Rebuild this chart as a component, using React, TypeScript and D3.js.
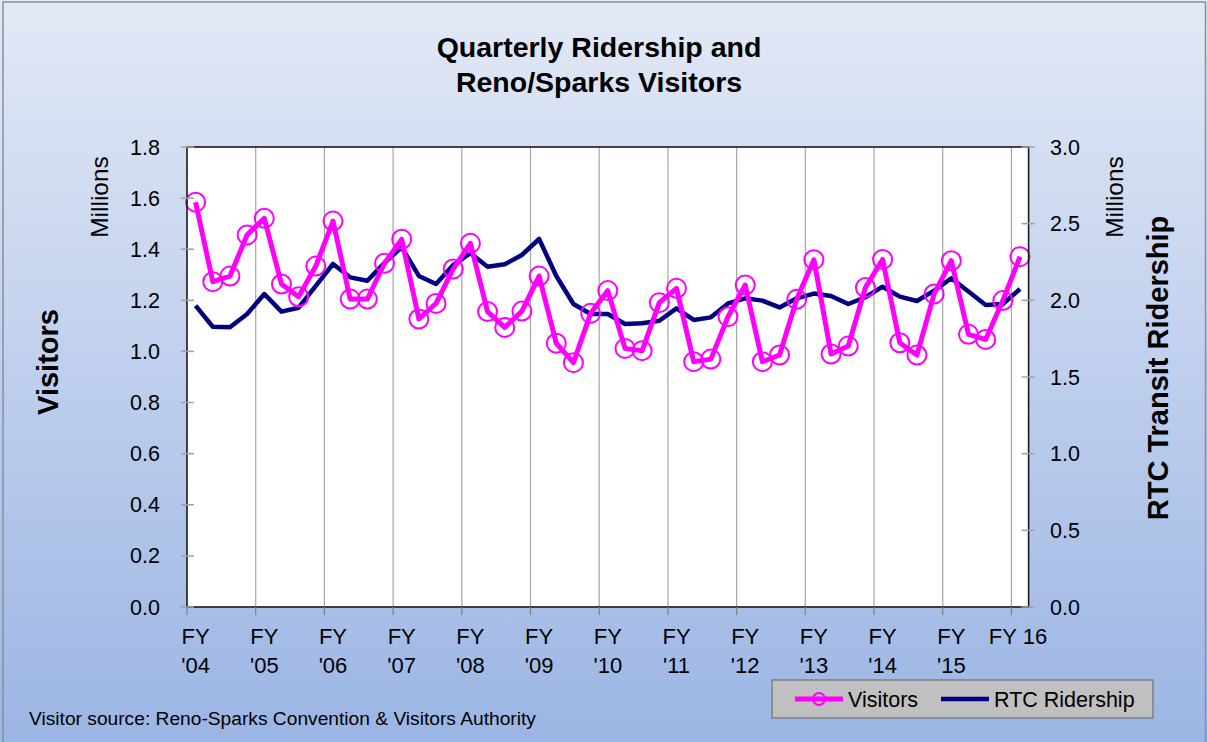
import React from "react";
import * as d3 from "d3";

const visitors: number[] = [
  1.584, 1.273, 1.295, 1.456, 1.521, 1.264, 1.214, 1.334, 1.510, 1.205, 1.205, 1.345,
  1.439, 1.127, 1.188, 1.323, 1.423, 1.156, 1.094, 1.158, 1.295, 1.032, 0.956, 1.149,
  1.238, 1.012, 1.003, 1.191, 1.247, 0.960, 0.970, 1.136, 1.260, 0.960, 0.986, 1.204,
  1.359, 0.990, 1.021, 1.250, 1.360, 1.034, 0.986, 1.225, 1.355, 1.067, 1.047, 1.199,
  1.371,
];

const ridership: number[] = [
  1.965, 1.828, 1.824, 1.911, 2.041, 1.926, 1.952, 2.094, 2.237, 2.150, 2.128, 2.244,
  2.346, 2.159, 2.107, 2.230, 2.307, 2.219, 2.235, 2.296, 2.400, 2.159, 1.976, 1.911,
  1.911, 1.846, 1.850, 1.867, 1.948, 1.872, 1.889, 1.980, 2.013, 1.998, 1.954, 2.013,
  2.044, 2.028, 1.976, 2.020, 2.089, 2.024, 1.996, 2.063, 2.144, 2.057, 1.970, 1.976,
  2.074,
];

const yearLabels: string[][] = [
  ["FY", "'04"], ["FY", "'05"], ["FY", "'06"], ["FY", "'07"], ["FY", "'08"], ["FY", "'09"],
  ["FY", "'10"], ["FY", "'11"], ["FY", "'12"], ["FY", "'13"], ["FY", "'14"], ["FY", "'15"],
  ["FY 16"],
];

const leftTicks: number[] = [0, 0.2, 0.4, 0.6, 0.8, 1.0, 1.2, 1.4, 1.6, 1.8];
const rightTicks: number[] = [0, 0.5, 1.0, 1.5, 2.0, 2.5, 3.0];

const W = 1207;
const H = 742;
const PL = 187;
const PR = 1028.6;
const PT = 147;
const PB = 607;
const FONT = "'Liberation Sans', Arial, sans-serif";

export default function App() {
  const idx = visitors.map((_, i) => i);
  const x = d3.scaleBand<number>().domain(idx).range([PL, PR]).padding(0);
  const cx = (i: number) => (x(i) as number) + x.bandwidth() / 2;
  const yL = d3.scaleLinear().domain([0, 1.8]).range([PB, PT]);
  const yR = d3.scaleLinear().domain([0, 3.0]).range([PB, PT]);

  const visLine = d3.line<number>().x((_, i) => cx(i)).y((d) => yL(d));
  const ridLine = d3.line<number>().x((_, i) => cx(i)).y((d) => yR(d));

  const boundaries = d3.range(4, visitors.length, 4);

  return (
    <svg
      width={W}
      height={H}
      style={{ position: "absolute", left: 0, top: 0, display: "block" }}
    >
      <defs>
        <linearGradient id="bg" x1="0" y1="0" x2="0" y2="1">
          <stop offset="0" stopColor="#e3e9f6" />
          <stop offset="1" stopColor="#9bb5e4" />
        </linearGradient>
      </defs>
      <rect x={0} y={0} width={W} height={H} fill="url(#bg)" />
      <rect x={3} y={2} width={W - 4.5} height={H + 10} fill="none" stroke="#8a8f99" strokeWidth={1.5} />

      {/* title */}
      <text x={599} y={57} textAnchor="middle" fontFamily={FONT} fontWeight="bold" fontSize={28.5} fill="#000">
        Quarterly Ridership and
      </text>
      <text x={599} y={92} textAnchor="middle" fontFamily={FONT} fontWeight="bold" fontSize={28.5} fill="#000">
        Reno/Sparks Visitors
      </text>

      {/* plot area */}
      <rect x={PL} y={PT} width={PR - PL} height={PB - PT} fill="#ffffff" />
      {boundaries.map((b) => (
        <line key={"g" + b} x1={x(b)} x2={x(b)} y1={PT} y2={PB} stroke="#a6a6a6" strokeWidth={1.2} />
      ))}

      {/* series */}
      <path d={ridLine(ridership) || ""} fill="none" stroke="#000080" strokeWidth={4.5} strokeLinejoin="round" />
      <path d={visLine(visitors) || ""} fill="none" stroke="#ff00ff" strokeWidth={5} strokeLinejoin="round" />
      {visitors.map((v, i) => (
        <circle key={"c" + i} cx={cx(i)} cy={yL(v)} r={9.5} fill="none" stroke="#ff00ff" strokeWidth={2} />
      ))}

      {/* plot border */}
      <rect x={PL} y={PT} width={PR - PL} height={PB - PT} fill="none" stroke="#1a1a1a" strokeWidth={1.6} />

      {/* left axis */}
      {leftTicks.map((t) => (
        <g key={"l" + t}>
          <line x1={PL - 6} x2={PL + 7} y1={yL(t)} y2={yL(t)} stroke="#a0a0a0" strokeWidth={1.5} />
          <text x={160} y={yL(t) + 7.5} textAnchor="end" fontFamily={FONT} fontSize={21.5} fill="#000">
            {t.toFixed(1)}
          </text>
        </g>
      ))}
      {/* right axis */}
      {rightTicks.map((t) => (
        <g key={"r" + t}>
          <line x1={PR - 7} x2={PR + 6} y1={yR(t)} y2={yR(t)} stroke="#a0a0a0" strokeWidth={1.5} />
          <text x={1050} y={yR(t) + 7.5} textAnchor="start" fontFamily={FONT} fontSize={21.5} fill="#000">
            {t.toFixed(1)}
          </text>
        </g>
      ))}

      {/* x axis ticks and labels */}
      {[0, ...boundaries].map((b) => (
        <line key={"t" + b} x1={x(b)} x2={x(b)} y1={PB} y2={PB + 8} stroke="#808080" strokeWidth={1.2} />
      ))}
      {yearLabels.map((lab, k) => {
        const px = lab.length === 1 ? cx(k * 4) - 2 : cx(k * 4);
        return (
          <text key={"x" + k} x={px} textAnchor="middle" fontFamily={FONT} fontSize={22} fill="#000">
            {lab.map((s, j) => (
              <tspan key={j} x={px} y={644 + j * 29}>
                {s}
              </tspan>
            ))}
          </text>
        );
      })}

      {/* axis titles */}
      <text transform="translate(108,197) rotate(-90)" textAnchor="middle" fontFamily={FONT} fontSize={24.5} fill="#000">
        Millions
      </text>
      <text transform="translate(58,362) rotate(-90)" textAnchor="middle" fontFamily={FONT} fontWeight="bold" fontSize={29} fill="#000">
        Visitors
      </text>
      <text transform="translate(1123,197) rotate(-90)" textAnchor="middle" fontFamily={FONT} fontSize={24.5} fill="#000">
        Millions
      </text>
      <text transform="translate(1168,368) rotate(-90)" textAnchor="middle" fontFamily={FONT} fontWeight="bold" fontSize={29} fill="#000">
        RTC Transit Ridership
      </text>

      {/* legend */}
      <rect x={772} y={680} width={381} height={38} fill="#c0c0c0" stroke="#7f7f7f" strokeWidth={1.5} />
      <line x1={795} x2={843} y1={699} y2={699} stroke="#ff00ff" strokeWidth={5} />
      <circle cx={819} cy={699} r={6} fill="none" stroke="#ff00ff" strokeWidth={2} />
      <text x={848} y={707} fontFamily={FONT} fontSize={21.5} fill="#000">Visitors</text>
      <line x1={941} x2={989} y1={699} y2={699} stroke="#000080" strokeWidth={4.5} />
      <text x={994} y={707} fontFamily={FONT} fontSize={21.5} fill="#000">RTC Ridership</text>

      {/* source */}
      <text x={29} y={725} fontFamily={FONT} fontSize={19.2} fill="#000">
        Visitor source: Reno-Sparks Convention &amp; Visitors Authority
      </text>
    </svg>
  );
}
